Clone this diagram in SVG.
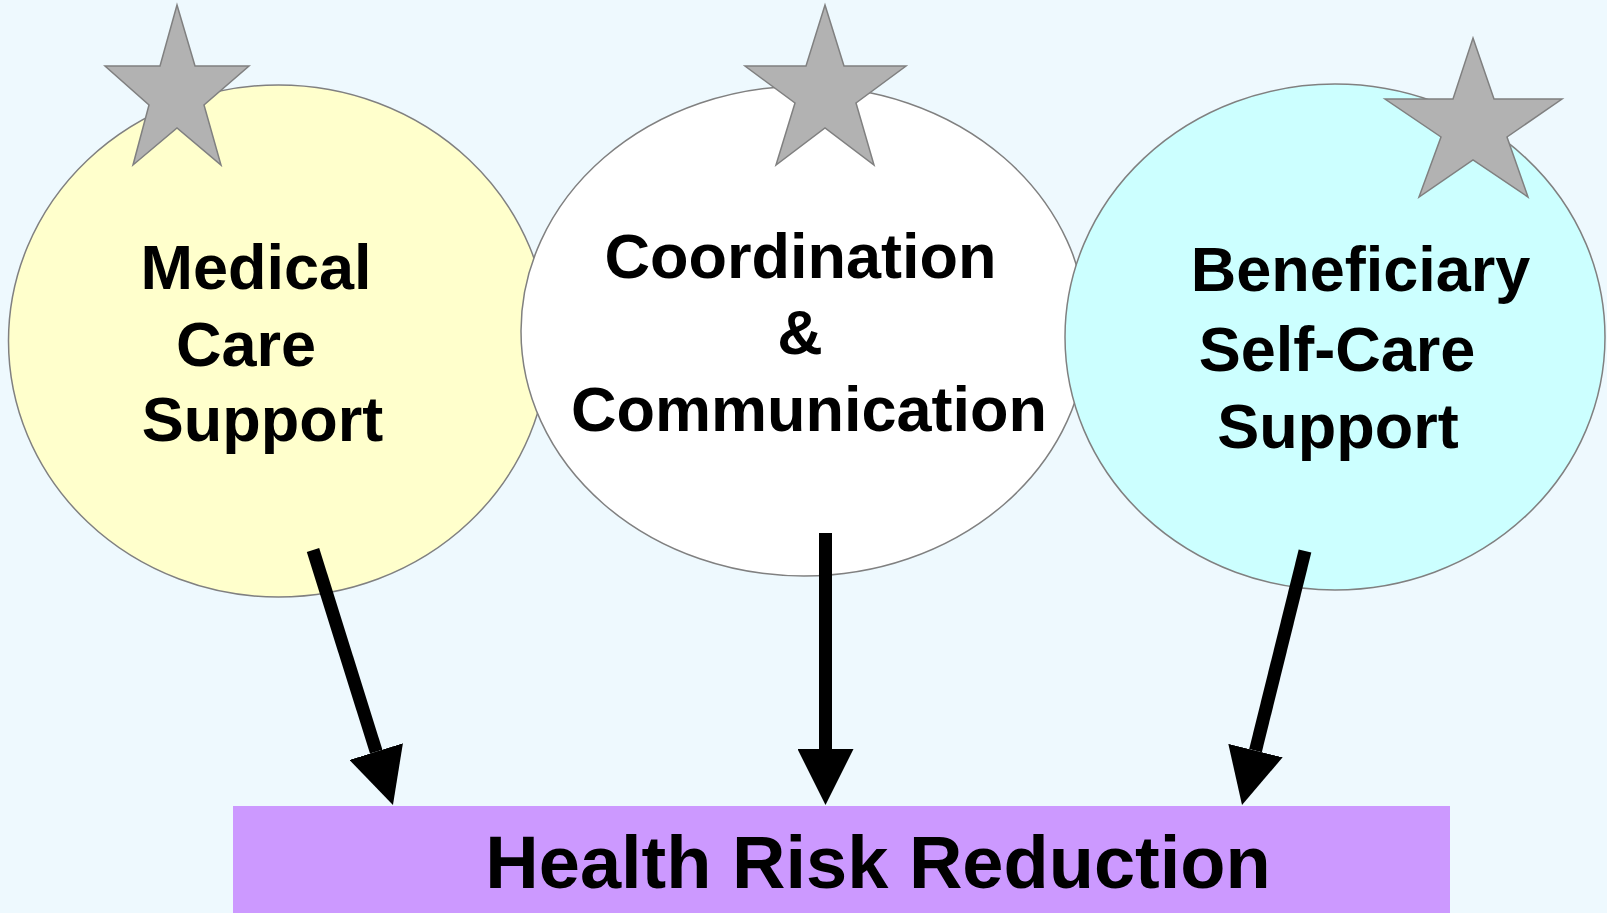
<svg xmlns="http://www.w3.org/2000/svg" width="1607" height="913" viewBox="0 0 1607 913">
<defs>
<style>
.bubble{stroke:#808080;stroke-width:1.5}
.star{fill:#B2B2B2;stroke:#808080;stroke-width:1.5;stroke-linejoin:miter}
.lbl{font-family:"Liberation Sans",Arial,sans-serif;font-weight:bold;font-size:63px;fill:#000;text-anchor:middle}
.big{font-size:74px}
.conn{stroke:#000;stroke-width:13;fill:none;marker-end:url(#head)}
</style>
<marker id="head" markerUnits="userSpaceOnUse" markerWidth="56" markerHeight="56" viewBox="0 0 56 56" refX="0" refY="28" orient="auto">
<path d="M0,0 L56,28 L0,56 Z" fill="#000"/>
</marker>
</defs>
<rect x="0" y="0" width="1607" height="913" fill="#EEF9FE"/>
<g id="node-medical">
<ellipse class="bubble" cx="278.5" cy="341" rx="270" ry="256" fill="#FFFFCC"/>
</g>
<g id="node-coordination">
<ellipse class="bubble" cx="804" cy="331" rx="283" ry="245" fill="#FFFFFF"/>
</g>
<g id="node-selfcare">
<ellipse class="bubble" cx="1335" cy="337" rx="270" ry="253" fill="#CCFFFF"/>
</g>
<g id="star-1"><polygon class="star" points="177,5 195,66 249,66 204,105 221,165 177,128 133,165 149,105 105,66 160,66"/></g>
<g id="star-2"><polygon class="star" points="825,5 844,66 906,66 856,103 874,165 825,128 776,165 795,103 745,66 806,66"/></g>
<g id="star-3"><polygon class="star" points="1473,38 1494,99 1562,99 1507,137 1528,197 1473,160 1419,197 1441,137 1385,99 1453,99"/></g>
<g id="labels-medical">
<text class="lbl" x="256" y="289">Medical</text>
<text class="lbl" x="246" y="366">Care</text>
<text class="lbl" x="262.5" y="441">Support</text>
</g>
<g id="labels-coordination">
<text class="lbl" x="800.5" y="277.5">Coordination</text>
<text class="lbl" x="800" y="354">&amp;</text>
<text class="lbl" x="809" y="430.5">Communication</text>
</g>
<g id="labels-selfcare">
<text class="lbl" x="1360.5" y="291">Beneficiary</text>
<text class="lbl" x="1337" y="371">Self-Care</text>
<text class="lbl" x="1338" y="448">Support</text>
</g>
<g id="node-health">
<rect x="233" y="806" width="1217" height="110" fill="#CC99FF"/>
<text class="lbl big" x="878" y="888">Health Risk Reduction</text>
</g>
<g id="connectors">
<line class="conn" x1="313" y1="550" x2="376.2" y2="751.6"/>
<line class="conn" x1="825.5" y1="533" x2="825.5" y2="749"/>
<line class="conn" x1="1305" y1="551" x2="1255.5" y2="750.6"/>
</g>
</svg>
